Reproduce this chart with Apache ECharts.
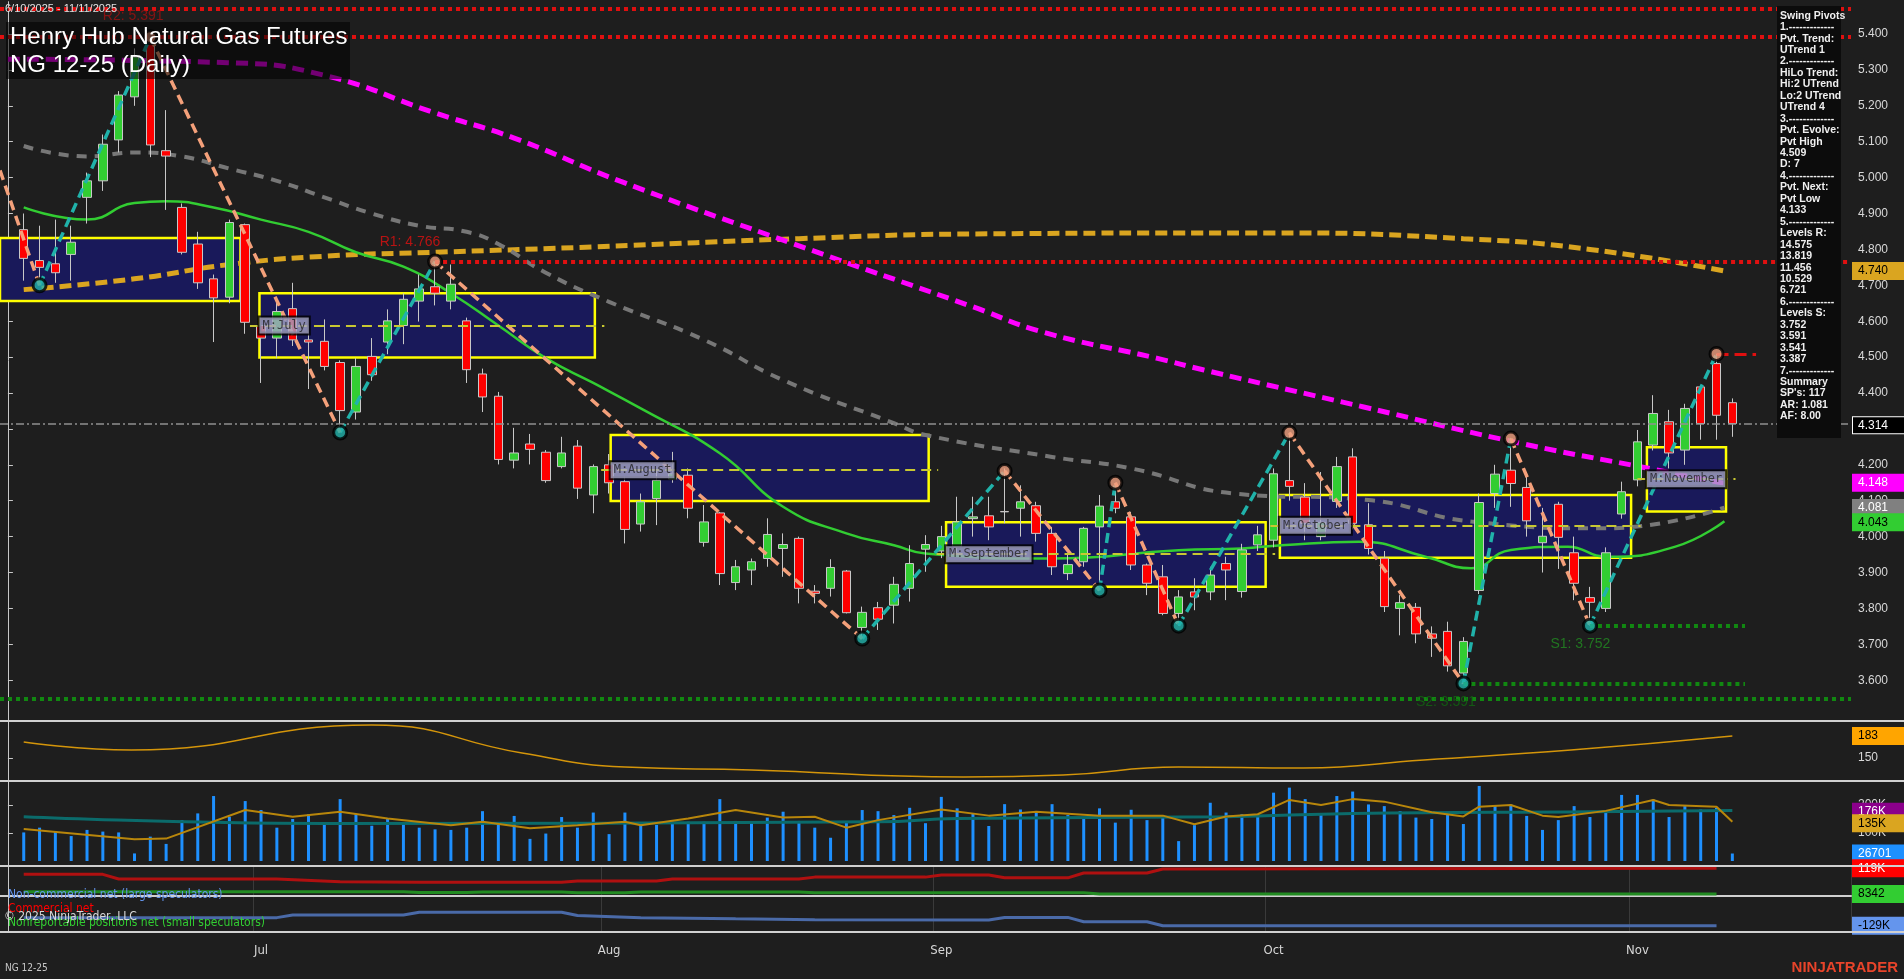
<!DOCTYPE html>
<html>
<head>
<meta charset="utf-8">
<script src="https://cdn.jsdelivr.net/npm/echarts@6.0.0/dist/echarts.min.js"></script>
<style>
  html, body { margin: 0; padding: 0; background: #1e1e1e; }
  #main { width: 1904px; height: 979px; }
</style>
</head>
<body>
<div id="main"></div>
<script>
// daily bars 6/10/2025 - 11/11/2025
const opens = [4.855,4.769,4.76,4.786,4.945,4.991,5.105,5.225,5.375,5.075,
  4.917,4.815,4.718,4.667,4.869,4.588,4.553,4.635,4.548,4.544,
  4.485,4.347,4.502,4.542,4.588,4.656,4.696,4.656,4.601,4.453,
  4.391,4.213,4.258,4.235,4.195,4.252,4.116,4.2,4.153,4.035,
  4.106,4.16,4.171,3.984,4.066,3.872,3.907,3.939,3.967,3.995,
  3.848,3.856,3.904,3.747,3.802,3.809,3.856,3.965,3.96,3.972,
  4.05,4.058,4.07,4.079,4.086,4.009,3.897,3.93,4.027,4.097,
  4.055,3.921,3.888,3.786,3.846,3.846,3.925,3.847,3.977,3.99,
  4.156,4.11,4.0,4.098,4.222,4.033,3.94,3.80,3.803,3.729,
  3.736,3.62,3.85,4.12,4.185,4.137,3.983,4.09,3.955,3.83,
  3.8,4.063,4.158,4.255,4.32,4.241,4.417,4.482,4.373];
const closes = [4.775,4.75,4.735,4.82,4.991,5.093,5.23,5.336,5.091,5.06,
  4.792,4.707,4.665,4.875,4.597,4.553,4.627,4.548,4.542,4.474,
  4.351,4.474,4.451,4.601,4.661,4.69,4.678,4.703,4.465,4.389,
  4.215,4.233,4.243,4.156,4.233,4.135,4.195,4.15,4.02,4.097,
  4.157,4.175,4.079,4.041,3.897,3.916,3.93,4.006,3.978,3.856,
  3.842,3.914,3.788,3.789,3.77,3.867,3.925,3.978,4.0,4.041,
  4.055,4.027,4.069,4.097,4.009,3.916,3.922,4.023,4.085,4.079,
  3.921,3.87,3.786,3.832,3.832,3.893,3.907,3.963,4.005,4.175,
  4.14,4.037,4.04,4.195,4.037,3.967,3.805,3.816,3.729,3.717,
  3.64,3.708,4.095,4.174,4.148,4.044,4.001,3.998,3.87,3.817,
  3.955,4.125,4.264,4.343,4.233,4.357,4.315,4.338,4.315];
const highs = [4.9,4.866,4.883,4.866,5.014,5.12,5.241,5.36,5.391,5.188,
  4.928,4.849,4.73,4.883,4.872,4.599,4.656,4.707,4.588,4.605,
  4.491,4.497,4.553,4.633,4.678,4.73,4.766,4.758,4.61,4.468,
  4.403,4.303,4.286,4.241,4.278,4.269,4.201,4.23,4.167,4.12,
  4.185,4.236,4.19,4.088,4.069,3.935,3.939,4.051,4.009,4.0,
  3.865,3.937,3.907,3.805,3.818,3.888,3.976,4.004,4.03,4.111,
  4.111,4.111,4.19,4.143,4.097,4.027,3.953,4.027,4.116,4.15,
  4.069,3.925,3.921,3.851,3.884,3.916,3.944,3.98,4.03,4.19,
  4.29,4.149,4.18,4.222,4.246,4.093,3.96,3.837,3.815,3.75,
  3.763,3.72,4.12,4.2,4.275,4.17,4.08,4.097,4.0,3.86,
  3.97,4.153,4.297,4.394,4.353,4.37,4.42,4.509,4.385];
const lows = [4.713,4.70,4.707,4.713,4.872,4.963,5.07,5.2,5.057,4.91,
  4.786,4.69,4.542,4.65,4.565,4.428,4.497,4.531,4.411,4.463,
  4.29,4.326,4.434,4.508,4.536,4.599,4.644,4.633,4.428,4.347,
  4.201,4.19,4.201,4.15,4.19,4.105,4.065,4.12,3.981,4.014,
  4.032,4.15,4.051,3.972,3.865,3.851,3.865,3.916,3.888,3.814,
  3.814,3.833,3.786,3.716,3.74,3.758,3.819,3.902,3.94,3.953,
  4.0,3.99,4.037,4.0,3.986,3.893,3.879,3.916,3.85,4.065,
  3.907,3.837,3.781,3.752,3.795,3.823,3.823,3.83,3.96,3.97,
  4.1,3.99,3.99,4.08,4.02,3.95,3.79,3.725,3.703,3.665,
  3.624,3.591,3.84,4.08,4.083,4.0,3.90,3.91,3.823,3.752,
  3.79,4.05,4.14,4.24,4.19,4.2,4.27,4.27,4.278];
const volumes = [102,119,107,89,111,105,102,27,87,61,
  146,170,232,158,214,182,119,150,167,131,
  221,167,126,152,134,119,113,111,119,178,
  131,161,79,98,157,119,173,96,173,138,
  129,140,140,140,221,143,138,155,176,143,
  119,83,138,182,178,164,190,135,229,188,
  168,125,203,184,176,203,164,152,188,137,
  183,146,164,71,128,208,173,167,167,244,
  262,221,168,232,248,202,196,178,155,150,
  167,132,268,200,202,161,111,146,196,157,
  178,236,236,220,157,196,184,190,26.7];

// overlay lines, [bar, value]
const maGreen = [[1,4.917],[5,4.883],[8,4.929],[10,4.934],[13,4.917],[16,4.883],[19,4.849],[22,4.792],[25,4.752],[28,4.678],[31,4.588],[34,4.497],[37,4.428],[40,4.357],[45,4.232],[49,4.083],[53,4.009],[56,3.976],[58,3.953],[66,3.939],[74,3.962],[78,3.967],[80.5,3.976],[85.4,3.986],[89.6,3.944],[92.5,3.912],[95,3.963],[98.6,3.972],[101,3.944],[105.4,3.972],[108.5,4.043]];
const maGray = [[1,5.088],[5,5.059],[8,5.07],[11,5.059],[14,5.025],[17,4.991],[20,4.945],[23,4.9],[26,4.866],[29,4.849],[31,4.815],[34,4.735],[38,4.654],[44,4.548],[49,4.436],[56,4.316],[58,4.283],[66,4.222],[71,4.19],[77.5,4.12],[86,4.102],[92.5,4.042],[101,4.023],[108.5,4.081]];
const maMagenta = [[0,5.33],[14,5.32],[20,5.285],[27,5.18],[32,5.11],[38.7,4.99],[49.5,4.818],[61,4.64],[65.4,4.57],[72.6,4.497],[75.6,4.464],[85.7,4.361],[95.6,4.26],[103.6,4.191],[108.5,4.148]];
const maOrange = [[1,4.688],[8,4.718],[14,4.758],[20,4.781],[27,4.792],[37,4.807],[50,4.83],[61,4.843],[80,4.846],[92,4.83],[100,4.80],[108.5,4.74]];
const oscLine = [[1,174],[7.8,162],[23,199.5],[32.5,157.5],[39,136.5],[47,132],[60.4,121.5],[66.7,124.5],[74,136.5],[81.9,135],[89.5,147],[98.8,162],[109,183]];
const volAvg = [[1,114],[8,78],[10,80],[15,182],[18,158],[21,176],[24,152],[28,128],[30,140],[33,117],[36,128],[39,140],[40,128],[43,152],[46,182],[49,155],[51,158],[53,119],[55,146],[59,184],[62,162],[65,176],[69,162],[73,162],[75,131],[77,159],[79,167],[81,218],[83,200],[85,221],[87,212],[90,174],[92,159],[93,194],[95,200],[97,162],[98,157],[101,179],[104,218],[105,200],[108,194],[109,140]];
const volOI = [[1,158],[20,134],[55,140],[60,152],[77,158],[85,170],[100,176],[109,180]];
const cotCommercial = [[1,93],[6,93],[7,73],[17,73],[21,61],[26,58.5],[35,58.5],[36,64],[41,64],[42,73],[50,73],[51,81],[58,81],[59,90],[62,90],[63,78],[67,78],[68,99],[72,99],[73,116],[108,119]];
const cotSmall = [[1,18],[25,18],[26,15],[29,15],[30,16.5],[35,16.5],[36,13],[39,13],[40,17],[50,17],[51,14],[68,14],[69,8.3],[108,8.3]];
const cotLarge = [[1,-94],[17,-94],[18,-83],[25,-83],[26,-71],[35,-71],[36,-85],[40,-94],[46,-99],[51,-103],[62,-104],[63,-93],[67,-93],[68,-112],[72,-112],[73,-129],[108,-129]];

// swing pivots (bar, price)
const pivotBars = [-0.5, 2, 9, 21, 27, 54, 63, 69, 70, 74, 81, 92, 95, 100, 108];
const pivotPrices = [5.02, 4.70, 5.391, 4.29, 4.766, 3.716, 4.183, 3.85, 4.15, 3.752, 4.289, 3.591, 4.273, 3.752, 4.509];

// monthly range boxes
const boxFrom = [-0.6, 15.9, 38.1, 59.3, 80.4, 103.6];
const boxTo = [14.7, 37.1, 58.2, 79.5, 102.6, 108.6];
const boxHigh = [4.832, 4.678, 4.283, 4.04, 4.116, 4.249];
const boxLow = [4.656, 4.499, 4.099, 3.86, 3.941, 4.07];
const boxMid = [4.743, 4.588, 4.185, 3.951, 4.03, 4.16];
const boxNames = ['', 'M:July', 'M:August', 'M:September', 'M:October', 'M:November'];

const priceTicks = [3.6,3.7,3.8,3.9,4.0,4.1,4.2,4.3,4.4,4.5,4.6,4.7,4.8,4.9,5.0,5.1,5.2,5.3,5.4];

const swingText = ['Swing Pivots','1.-------------','Pvt. Trend:','UTrend 1','2.-------------','HiLo Trend:','Hi:2 UTrend','Lo:2 UTrend','UTrend 4','3.-------------','Pvt. Evolve:','Pvt High','4.509','D: 7','4.-------------','Pvt. Next:','Pvt Low','4.133','5.-------------','Levels R:','14.575','13.819','11.456','10.529','6.721','6.-------------','Levels S:','3.752','3.591','3.541','3.387','7.-------------','Summary',"SP's: 117",'AR: 1.081','AF: 8.00'];

// trading dates
const holidays = ['2025-07-04', '2025-09-01'];
const dates = [];
let d = new Date(Date.UTC(2025, 5, 10));
while (dates.length < 109) {
  const s = d.toISOString().slice(0, 10);
  const wd = d.getUTCDay();
  if (wd !== 0 && wd !== 6 && holidays.indexOf(s) < 0) dates.push(s);
  d = new Date(d.getTime() + 86400000);
}
const N = 117;
const cats = [''].concat(dates);
while (cats.length < N) cats.push('');
const months = ['Jan','Feb','Mar','Apr','May','Jun','Jul','Aug','Sep','Oct','Nov','Dec'];
const monthStart = {};
for (let i = 2; i < cats.length; i++) {
  if (cats[i] && cats[i - 1] && cats[i].slice(5, 7) !== cats[i - 1].slice(5, 7)) monthStart[i] = months[+cats[i].slice(5, 7) - 1];
}

const candles = cats.map((c, i) => (i >= 1 && i <= 109) ? [opens[i-1], closes[i-1], lows[i-1], highs[i-1]] : '-');
const volBars = volumes.map((v, i) => [i + 1, v]);

// zigzag
const upSeg = [], downSeg = [];
for (let i = 0; i < pivotBars.length - 1; i++) {
  const a = [pivotBars[i], pivotPrices[i]], b = [pivotBars[i+1], pivotPrices[i+1]];
  const target = pivotPrices[i+1] > pivotPrices[i] ? upSeg : downSeg;
  target.push(a, b, '-');
}
const pivHigh = [], pivLow = [];
for (let i = 1; i < pivotBars.length; i++) {
  (pivotPrices[i] > pivotPrices[i-1] ? pivHigh : pivLow).push([pivotBars[i], pivotPrices[i]]);
}

const chart = echarts.init(document.getElementById('main'));
const font = 'Liberation Sans, Arial, sans-serif';

function tag(v, text, bg, fg, border) {
  return { yAxis: v, label: { show: true, position: 'end', formatter: text, backgroundColor: bg, color: fg, borderColor: border || bg, borderWidth: 1,
    padding: [2, 5], width: 42, align: 'left', fontSize: 12, fontFamily: font, distance: 2, opacity: 1 } };
}
function tagLine(tags) {
  return { silent: true, symbol: 'none', lineStyle: { color: 'rgba(0,0,0,0)', width: 0.01 }, data: tags };
}
function hline(v, from, to, color, type, width) {
  return [{ coord: [from, v], lineStyle: { color: color, type: type, width: width } }, { coord: [to, v] }];
}
function valX(gi) {
  return { type: 'value', gridIndex: gi, min: -0.5, max: N - 0.5, show: false };
}

const gridRight = 53;
const option = {
  backgroundColor: '#1e1e1e',
  animation: false,
  grid: [
    { left: 0, right: gridRight, top: 1.7, height: 718 },
    { left: 0, right: gridRight, top: 722, height: 59 },
    { left: 0, right: gridRight, top: 781, height: 85 },
    { left: 0, right: gridRight, top: 866, height: 66 }
  ],
  xAxis: [
    { type: 'category', gridIndex: 0, data: cats, show: false },
    valX(0), valX(1), valX(2),
    { type: 'category', gridIndex: 3, data: cats, boundaryGap: true,
      axisLine: { lineStyle: { color: '#d0d0d0', width: 2 } },
      axisTick: { interval: i => !!monthStart[i], alignWithLabel: true, lineStyle: { color: '#d0d0d0' }, length: 6 },
      axisLabel: { interval: i => !!monthStart[i], formatter: (v, i) => monthStart[i] || '', color: '#d8d8d8',
        fontFamily: 'DejaVu Sans Condensed, sans-serif', fontSize: 13, margin: 12 },
      splitLine: { show: true, interval: i => !!monthStart[i], lineStyle: { color: '#3a3a3a' } } },
    valX(3)
  ],
  yAxis: [
    { type: 'value', gridIndex: 0, position: 'right', min: 3.49, max: 5.49, splitLine: { show: false },
      axisLine: { show: true, lineStyle: { color: '#c8c8c8' } },
      axisTick: { show: true, customValues: priceTicks, length: 5, lineStyle: { color: '#c8c8c8' } },
      axisLabel: { customValues: priceTicks, formatter: v => v.toFixed(3), color: '#d8d8d8', fontSize: 12, fontFamily: font, margin: 7 } },
    { type: 'value', gridIndex: 1, position: 'right', min: 115.5, max: 204, splitLine: { show: false },
      axisLine: { show: true, lineStyle: { color: '#c8c8c8' } },
      axisTick: { show: true, customValues: [150], length: 5 },
      axisLabel: { customValues: [150], color: '#d8d8d8', fontSize: 12, fontFamily: font, margin: 7 } },
    { type: 'value', gridIndex: 2, position: 'right', min: -17.9, max: 285.7, splitLine: { show: false },
      axisLine: { show: true, lineStyle: { color: '#c8c8c8' } },
      axisTick: { show: true, customValues: [100, 200], length: 5 },
      axisLabel: { customValues: [100, 200], formatter: v => v + 'K', color: '#d8d8d8', fontSize: 12, fontFamily: font, margin: 7 } },
    { type: 'value', gridIndex: 3, position: 'right', min: -156, max: 129, splitLine: { show: false },
      axisLine: { show: true, lineStyle: { color: '#c8c8c8' } },
      axisTick: { show: false }, axisLabel: { show: false } }
  ],
  series: [
    { // monthly range boxes + level lines
      type: 'line', xAxisIndex: 1, yAxisIndex: 0, data: [], z: 1, silent: true,
      markArea: { silent: true,
        itemStyle: { color: '#19195a', borderColor: '#ffff00', borderWidth: 2.5 },
        data: boxFrom.map((f, i) => [{ coord: [f, boxHigh[i]] }, { coord: [boxTo[i], boxLow[i]] }]) },
      markLine: { silent: true, symbol: 'none', label: { show: false },
        data: [
          hline(5.471, -0.5, N - 0.5, '#e01010', 'dotted', 4),
          hline(5.391, -0.5, N - 0.5, '#e01010', 'dotted', 4),
          hline(4.766, 27, N - 0.5, '#e01010', 'dotted', 4),
          hline(4.509, 108, 110.5, '#e01010', 'dashed', 3),
          hline(3.752, 100, 109.8, '#118811', 'dotted', 4),
          hline(3.591, 92, 109.8, '#118811', 'dotted', 4),
          hline(3.548, -0.5, N - 0.5, '#118811', 'dotted', 4),
          hline(4.314, -0.5, N - 0.5, '#909090', [8, 3, 2, 3], 1.5)
        ].concat(boxMid.map((m, i) => hline(m, boxFrom[i] - 0.6, boxTo[i] + 0.6, '#c8c832', [10, 6], 2)))
      }
    },
    { type: 'line', xAxisIndex: 1, yAxisIndex: 0, data: maOrange, smooth: true, symbol: 'none', z: 2,
      lineStyle: { color: '#daa520', width: 5, type: [12, 6] } },
    { type: 'line', xAxisIndex: 1, yAxisIndex: 0, data: maGray, smooth: true, symbol: 'none', z: 2,
      lineStyle: { color: '#777777', width: 4, type: [10, 8] } },
    { type: 'line', xAxisIndex: 1, yAxisIndex: 0, data: maMagenta, smooth: true, symbol: 'none', z: 2,
      lineStyle: { color: '#ff00ff', width: 5, type: [12, 7] } },
    { type: 'line', xAxisIndex: 1, yAxisIndex: 0, data: maGreen, smooth: true, symbol: 'none', z: 2,
      lineStyle: { color: '#32cd32', width: 2.5 } },
    { type: 'candlestick', xAxisIndex: 0, yAxisIndex: 0, data: candles, barWidth: 9, z: 3,
      itemStyle: { color: '#32cd32', color0: '#ff0000', borderColor: '#c8c8c8', borderColor0: '#c8c8c8', borderWidth: 1 } },
    { type: 'line', xAxisIndex: 1, yAxisIndex: 0, data: upSeg, symbol: 'none', z: 4, connectNulls: false,
      lineStyle: { color: '#20b2aa', width: 3.5, type: [10, 6] } },
    { type: 'line', xAxisIndex: 1, yAxisIndex: 0, data: downSeg, symbol: 'none', z: 4, connectNulls: false,
      lineStyle: { color: '#f4a07a', width: 3.5, type: [10, 6] } },
    { type: 'scatter', xAxisIndex: 1, yAxisIndex: 0, data: pivHigh, symbolSize: 13, z: 5,
      itemStyle: { color: '#f0a080', borderColor: '#000', borderWidth: 3 } },
    { type: 'scatter', xAxisIndex: 1, yAxisIndex: 0, data: pivLow, symbolSize: 13, z: 5,
      itemStyle: { color: '#20b2aa', borderColor: '#000', borderWidth: 3 } },
    { // month labels
      type: 'scatter', xAxisIndex: 1, yAxisIndex: 0, symbolSize: 0, z: 6,
      data: boxFrom.map((f, i) => ({ value: [f, boxMid[i]], name: boxNames[i] })).filter(p => p.name),
      label: { show: true, position: 'right', distance: 0, formatter: p => p.name, color: '#222',
        backgroundColor: '#a4a4c4', borderColor: '#000', borderWidth: 2, padding: [2, 3],
        fontFamily: 'DejaVu Sans Mono, monospace', fontSize: 12 } },
    { // level texts
      type: 'scatter', xAxisIndex: 1, yAxisIndex: 0, symbolSize: 0, z: 6,
      data: [
        { value: [23.5, 4.82], name: 'R1: 4.766', label: { color: '#e01010' } },
        { value: [6, 5.45], name: 'R2: 5.391', label: { color: '#a01010' } },
        { value: [97.5, 3.70], name: 'S1: 3.752', label: { color: '#228b22' } },
        { value: [89, 3.54], name: 'S2: 3.591', label: { color: '#116611' } }
      ],
      label: { show: true, position: 'right', distance: 0, formatter: p => p.name, fontSize: 14, fontFamily: font } },
    { // right-side value tags, main panel
      type: 'scatter', xAxisIndex: 1, yAxisIndex: 0, data: [[0, 4.5]], symbolSize: 0, z: 8, clip: false,
      markLine: tagLine([tag(4.740, '4.740', '#daa520', '#000'), tag(4.314, '4.314', '#000', '#fff', '#fff'),
        tag(4.148, '4.148', '#ff00ff', '#fff'), tag(4.081, '4.081', '#808080', '#fff'), tag(4.043, '4.043', '#32cd32', '#000')]) },
    { type: 'line', xAxisIndex: 2, yAxisIndex: 1, data: oscLine, smooth: true, symbol: 'none',
      lineStyle: { color: '#d4950a', width: 1.5 },
      markLine: tagLine([tag(183, '183', '#ffa500', '#000')]) },
    { type: 'bar', xAxisIndex: 3, yAxisIndex: 2, data: volBars, barWidth: 3, itemStyle: { color: '#1e90ff' } },
    { type: 'line', xAxisIndex: 3, yAxisIndex: 2, data: volOI, smooth: true, symbol: 'none',
      lineStyle: { color: '#0b6b6b', width: 3 } },
    { type: 'line', xAxisIndex: 3, yAxisIndex: 2, data: volAvg, symbol: 'none',
      lineStyle: { color: '#b8860b', width: 2 },
      markLine: tagLine([tag(176, '176K', '#8b008b', '#fff'), tag(135, '135K', '#daa520', '#000'), tag(26.7, '26701', '#1e90ff', '#fff')]) },
    { type: 'line', xAxisIndex: 5, yAxisIndex: 3, data: cotCommercial, symbol: 'none', lineStyle: { color: '#b01010', width: 3 },
      markLine: tagLine([tag(119, '119K', '#ff0000', '#fff'), tag(8.3, '8342', '#32cd32', '#000'), tag(-129, '-129K', '#6495ed', '#000')]) },
    { type: 'line', xAxisIndex: 5, yAxisIndex: 3, data: cotSmall, symbol: 'none', lineStyle: { color: '#228b22', width: 3 } },
    { type: 'line', xAxisIndex: 5, yAxisIndex: 3, data: cotLarge, symbol: 'none', lineStyle: { color: '#4a6aa8', width: 3 } }
  ],
  graphic: [
    { type: 'rect', z: 100, shape: { x: 6, y: 22, width: 344, height: 57 }, style: { fill: 'rgba(0,0,0,0.55)' } },
    { type: 'text', z: 101, left: 10, top: 23, style: { text: 'Henry Hub Natural Gas Futures\nNG 12-25 (Daily)', fill: '#fff',
      font: '24px ' + font, lineHeight: 28 } },
    { type: 'text', z: 101, left: 5, top: 3, style: { text: '6/10/2025 - 11/11/2025', fill: '#e0e0e0', font: '11px ' + font } },
    { type: 'rect', z: 100, shape: { x: 1777, y: 6, width: 64, height: 432 }, style: { fill: '#0c0c0c' } },
    { type: 'text', z: 101, left: 1780, top: 10, style: { text: swingText.join('\n'), fill: '#f0f0f0', font: 'bold 10.5px ' + font, lineHeight: 11.45 } },
    { type: 'line', z: 50, shape: { x1: 0, y1: 721, x2: 1904, y2: 721 }, style: { stroke: '#d0d0d0', lineWidth: 2 } },
    { type: 'line', z: 50, shape: { x1: 0, y1: 781, x2: 1904, y2: 781 }, style: { stroke: '#d0d0d0', lineWidth: 2 } },
    { type: 'line', z: 50, shape: { x1: 0, y1: 866, x2: 1904, y2: 866 }, style: { stroke: '#d0d0d0', lineWidth: 2 } },
    { type: 'line', z: 50, shape: { x1: 0, y1: 932, x2: 1904, y2: 932 }, style: { stroke: '#d0d0d0', lineWidth: 2 } },
    { type: 'text', z: 101, left: 8, top: 889, style: { text: 'Non-commercial net (large speculators)', fill: '#6495ed', font: '12px DejaVu Sans Condensed, sans-serif' } },
    { type: 'text', z: 101, left: 8, top: 903, style: { text: 'Commercial net', fill: '#ff0000', font: '12px DejaVu Sans Condensed, sans-serif' } },
    { type: 'text', z: 102, left: 4, top: 911, style: { text: '© 2025 NinjaTrader, LLC', fill: '#d8d8d8', font: '12px DejaVu Sans Condensed, sans-serif' } },
    { type: 'text', z: 101, left: 8, top: 917, style: { text: 'Nonreportable positions net (small speculators)', fill: '#32cd32', font: '12px DejaVu Sans Condensed, sans-serif' } },
    { type: 'text', z: 101, left: 5, top: 963, style: { text: 'NG 12-25', fill: '#c8c8c8', font: '10px DejaVu Sans Condensed, sans-serif' } },
    { type: 'text', z: 101, right: 6, top: 960, style: { text: 'NINJATRADER', fill: '#e8442a', font: 'bold 15px ' + font } }
  ]
};
chart.setOption(option);
</script>
</body>
</html>
